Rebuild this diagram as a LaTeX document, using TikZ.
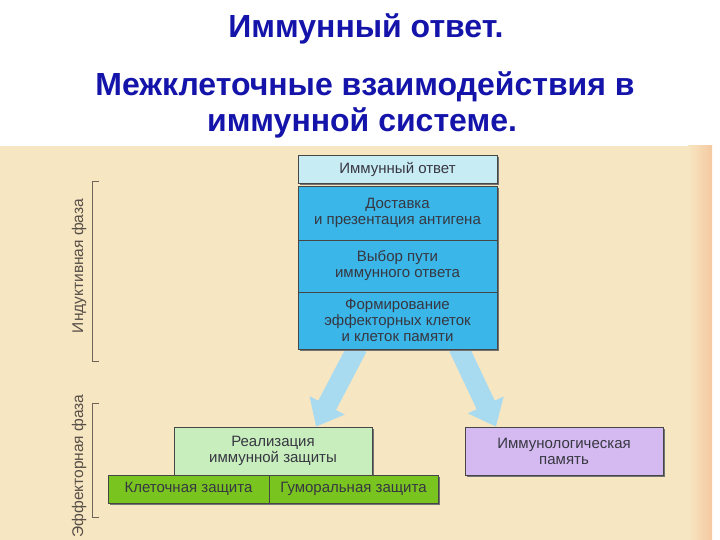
\documentclass[tikz,border=0pt]{standalone}
\usepackage{fontspec}
\setmainfont{Liberation Sans}
\usetikzlibrary{calc,arrows.meta,shadows,backgrounds}
\definecolor{paper}{RGB}{247,230,194}
\definecolor{peach}{RGB}{244,201,160}
\definecolor{titleblue}{RGB}{20,20,170}
\definecolor{edge}{RGB}{70,70,70}
\definecolor{ink}{RGB}{55,55,65}
\definecolor{paleblue}{RGB}{200,236,244}
\definecolor{deepblue}{RGB}{58,182,232}
\definecolor{arrowblue}{RGB}{168,218,240}
\definecolor{palegreen}{RGB}{200,238,190}
\definecolor{leafgreen}{RGB}{122,196,32}
\definecolor{lavender}{RGB}{212,186,240}
\definecolor{brack}{RGB}{110,100,90}
\tikzset{
	>=latex,                  % tips
	box/.style={draw=edge, line width=0.7pt, text=ink, align=center, inner sep=0pt,
		font=\fontsize{15}{16}\selectfont,
		drop shadow={shadow xshift=2pt,shadow yshift=-2pt,fill=black!55,opacity=1}},
	flow/.style={line width=20pt, color=arrowblue, -{Triangle[width=38pt,length=24pt]}},
	phase/.style={rotate=90, text=brack!80!black, font=\fontsize{15.5}{17}\selectfont},
	bracket/.style={draw=brack, line width=1pt},
	headline/.style={anchor=base, text=titleblue, font=\fontsize{32}{36}\bfseries}
}

\begin{document}
\begin{tikzpicture}[x=1pt,y=-1pt]
	\useasboundingbox (0,0) rectangle (720,540);
	
	% heading
	\node[headline] (title) at (366,38) {Иммунный ответ.};
	\node[headline] (sub1) at (365,96) {Межклеточные взаимодействия в};
	\node[headline] (sub2) at (362,132) {иммунной системе.};
	
	% phases
	\draw[bracket] (99,182) -- (92,182) -- (92,361) -- (99,361);
	\draw[bracket] (99,403) -- (92,403) -- (92,517) -- (99,517);
	\node[phase] (ind) at (79,266) {Индуктивная фаза};
	\node[phase] (eff) at (79,466) {Эффекторная фаза};
	
	% induction block
	\node[box, fill=paleblue, minimum width=199pt, minimum height=28pt] (resp) at (397.5,169) {Иммунный ответ};
	\node[box, fill=deepblue, minimum width=199pt, minimum height=54pt] (deliv) at (397.5,213) {Доставка\\и презентация антигена};
	\node[box, fill=deepblue, minimum width=199pt, minimum height=52pt] (choice) at (397.5,266) {Выбор пути\\иммунного ответа};
	\node[box, fill=deepblue, minimum width=199pt, minimum height=57pt] (form) at (397.5,320.5) {Формирование\\эффекторных клеток\\и клеток памяти};
	
	% effector boxes
	\node[box, fill=palegreen, minimum width=198pt, minimum height=48pt] (real) at (273,451) {Реализация\\иммунной защиты};
	\node[box, fill=lavender, minimum width=198pt, minimum height=48pt] (mem) at (564,451) {Иммунологическая\\память};
	\node[box, fill=leafgreen, minimum width=161pt, minimum height=28pt] (cell) at (188.5,489) {Клеточная защита};
	\node[box, fill=leafgreen, minimum width=169pt, minimum height=28pt] (humor) at (353.5,489) {Гуморальная защита};
	
	% page background and arrows, behind the boxes
	\begin{scope}[on background layer]
		\fill[white] (0,0) rectangle (720,540);
		\fill[paper] (0,146) rectangle (700,540);
		\shade[left color=paper,right color=peach] (688,146) rectangle (712,540);
		\draw[flow] ($(form.south)+(-40,-2)$) -- ($(real.north)+(43,0)$);
		\draw[flow] ($(form.south)+(61,-2)$) -- ($(mem.north)+(-68,0)$);
	\end{scope}
	
\end{tikzpicture}
\end{document}
